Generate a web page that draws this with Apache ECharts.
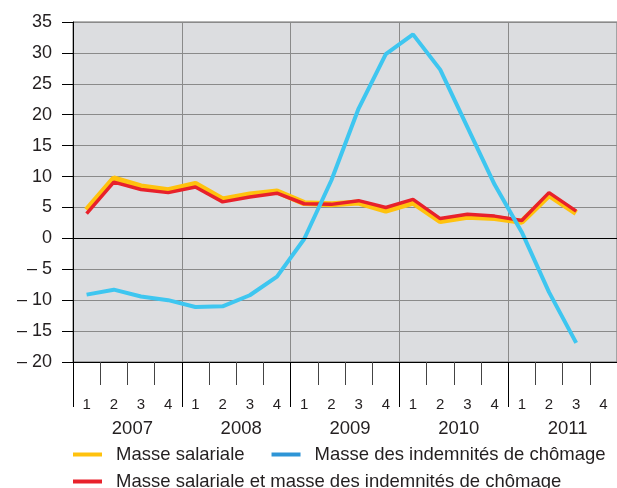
<!DOCTYPE html>
<html>
<head>
<meta charset="utf-8">
<script src="https://cdn.jsdelivr.net/npm/echarts@6/dist/echarts.min.js"></script>
<style>
  html, body { margin: 0; padding: 0; background: #fff; }
  #chart { width: 617px; height: 488px; }
</style>
</head>
<body>
<div id="chart"></div>
<script>
// quarters 2007 Q1 .. 2011 Q4
const years = ['2007', '2008', '2009', '2010', '2011']
const quarters = ['1', '2', '3', '4']
const quarterLabels = years.flatMap(() => quarters)

const masseSalariale = [4.6, 9.7, 8.4, 7.8, 8.8, 6.3, 7.1, 7.6, 5.7, 5.5, 5.8, 4.5, 5.8, 2.8, 3.5, 3.3, 2.7, 7.0, 4.1]
const indemnites = [-9.1, -8.3, -9.4, -10.0, -11.1, -11.0, -9.2, -6.2, -0.1, 9.4, 21.0, 29.8, 33.0, 27.3, 18.0, 8.7, 1.0, -8.7, -16.9]
const total = [4.0, 9.1, 7.9, 7.4, 8.3, 5.9, 6.7, 7.3, 5.6, 5.5, 6.1, 5.0, 6.3, 3.2, 3.9, 3.6, 2.9, 7.4, 4.4]

const NAME_SAL = 'Masse salariale'
const NAME_IND = 'Masse des indemnités de chômage'
const NAME_TOT = 'Masse salariale et masse des indemnités de chômage'

const FONT = '"Liberation Sans", Arial, sans-serif'
const TXT = '#231f20'

const chart = echarts.init(document.getElementById('chart'))

const legendBase = {
  left: 73,
  padding: 0,
  icon: 'rect',
  itemWidth: 29,
  itemHeight: 4,
  itemGap: 27,
  selectedMode: false,
  textStyle: { fontFamily: FONT, fontSize: 18.5, color: TXT, padding: [0, 0, 0, 9] },
}

chart.setOption({
  animation: false,
  textStyle: { fontFamily: FONT },
  grid: {
    left: 73, top: 22, width: 553, height: 340,
    show: true, backgroundColor: '#dcdde0',
    borderColor: '#6b6b6b', borderWidth: 1,
  },
  legend: [
    Object.assign({}, legendBase, {
      top: 445,
      data: [
        { name: NAME_SAL },
        { name: NAME_IND, itemStyle: { color: '#2e95d6' } },
      ],
    }),
    Object.assign({}, legendBase, {
      top: 472,
      data: [{ name: NAME_TOT }],
    }),
  ],
  xAxis: [
    {
      type: 'category',
      data: quarterLabels,
      position: 'bottom',
      axisLine: { show: true, onZero: false, lineStyle: { color: '#000', width: 1 } },
      axisTick: { show: true, interval: 0, length: 23, lineStyle: { color: '#444' } },
      axisLabel: { interval: 0, margin: 35, fontSize: 15, color: TXT },
      splitLine: { show: false },
    },
    {
      type: 'category',
      data: years,
      position: 'bottom',
      axisLine: { show: false, onZero: false },
      axisTick: { show: true, interval: 0, length: 45, lineStyle: { color: '#000' } },
      axisLabel: { interval: 0, margin: 57, fontSize: 18.5, color: TXT, padding: [0, 0, 0, 10] },
      splitLine: { show: true, interval: 0, lineStyle: { color: '#8a8a8a', width: 1 } },
    },
  ],
  yAxis: {
    type: 'value',
    min: -20, max: 35, interval: 5,
    axisLine: { show: true, lineStyle: { color: '#000' } },
    axisTick: { show: true, length: 11, lineStyle: { color: '#000' } },
    axisLabel: {
      margin: 21, fontSize: 18, color: TXT,
      formatter: v => (v < 0 ? '– ' + Math.abs(v) : String(v)),
    },
    splitLine: { show: true, lineStyle: { color: '#8a8a8a', width: 1 } },
  },
  series: [
    {
      name: NAME_SAL, type: 'line', data: masseSalariale,
      showSymbol: false, symbol: 'none', color: '#ffc20e',
      lineStyle: { width: 6, color: '#ffc20e' },
      z: 2,
      markLine: {
        silent: true, symbol: 'none', label: { show: false },
        lineStyle: { color: '#000', width: 1, type: 'solid' },
        data: [{ yAxis: 0 }],
      },
    },
    {
      name: NAME_TOT, type: 'line', data: total,
      showSymbol: false, symbol: 'none', color: '#e8212b',
      lineStyle: { width: 3.5, color: '#e8212b' },
      z: 3,
    },
    {
      name: NAME_IND, type: 'line', data: indemnites,
      showSymbol: false, symbol: 'none', color: '#3ec6f0',
      lineStyle: { width: 4, color: '#3ec6f0' },
      z: 4,
    },
  ],
})
</script>
</body>
</html>
